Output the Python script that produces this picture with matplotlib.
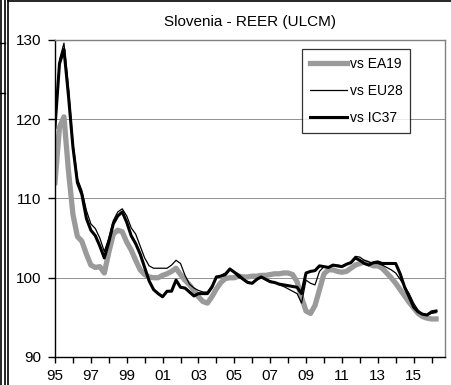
import numpy as np
import matplotlib
matplotlib.use("Agg")
import matplotlib.pyplot as plt
from matplotlib.lines import Line2D

plt.rcParams['font.family'] = ['Liberation Sans', 'DejaVu Sans']

# quarterly REER (ULC, manufacturing), 1995Q1 - 2016Q2
start_year = 1995
vs_ea19 = [112.0, 119.0, 120.3, 113.5,
           108.0, 105.2, 104.6, 103.0,
           101.6, 101.3, 101.4, 100.6,
           103.2, 105.5, 106.0, 105.8,
           104.5, 103.5, 102.2, 101.0,
           100.4, 100.1, 100.0, 100.0,
           100.3, 100.5, 100.8, 101.2,
           100.4, 99.7, 99.1, 98.4,
           97.6, 97.0, 96.8, 97.6,
           98.6, 99.4, 99.9, 100.0,
           100.0, 100.2, 100.1, 100.1,
           100.2, 100.2, 100.3, 100.3,
           100.4, 100.5, 100.5, 100.6,
           100.6, 100.4, 99.5, 97.5,
           95.8, 95.5, 96.5, 98.5,
           100.5, 101.0, 101.0, 100.8,
           100.7, 100.8, 101.2, 101.6,
           101.8, 102.0, 101.8, 101.5,
           101.5, 101.2, 100.6, 100.0,
           99.3, 98.5, 97.7, 96.9,
           96.2, 95.5, 95.1, 94.9,
           94.8, 94.8]
vs_eu28 = [119.0, 127.5, 129.6, 124.0,
           117.0, 112.5, 111.0, 108.5,
           106.8, 106.2, 105.0, 103.3,
           105.0, 107.2, 108.3, 108.7,
           107.8, 106.3, 105.5, 104.0,
           102.5, 101.5, 101.2, 101.2,
           101.2, 101.2, 101.6, 102.2,
           101.8, 100.3, 99.2, 98.7,
           98.4, 98.2, 98.2, 99.0,
           100.1, 100.3, 100.6, 101.2,
           100.6, 100.0, 99.8, 99.5,
           99.3, 99.7, 100.1, 99.8,
           99.6, 99.4, 99.1, 98.9,
           98.6, 98.3, 98.0, 96.8,
           99.7, 99.3, 99.1, 100.8,
           101.4, 101.3, 101.5, 101.6,
           101.5, 101.7, 102.0, 102.7,
           102.6, 102.2, 102.0, 101.8,
           101.8, 101.6, 101.3, 101.0,
           100.6, 99.8, 98.9, 98.0,
           96.8, 95.9, 95.4, 95.3,
           95.5, 95.6]
vs_ic37 = [119.0, 127.0, 128.8, 123.0,
           116.5, 112.0, 110.5, 107.5,
           106.0, 105.3, 104.0, 102.5,
           104.5, 106.8, 107.8, 108.3,
           107.0, 105.3, 104.3, 103.0,
           101.3, 99.6, 98.5, 98.0,
           97.6, 98.3, 98.3, 99.7,
           98.8, 98.7, 98.2, 97.7,
           98.0, 98.0, 98.0, 98.8,
           100.1, 100.2, 100.4, 101.1,
           100.7, 100.3, 99.8, 99.4,
           99.3, 99.8, 100.1, 99.8,
           99.5, 99.4, 99.2, 99.1,
           99.0, 98.9, 98.8, 98.0,
           100.6, 100.8, 100.9, 101.5,
           101.4, 101.3, 101.6, 101.5,
           101.4, 101.7, 101.9, 102.5,
           102.2, 101.8, 101.6, 101.9,
           102.0, 101.8, 101.8, 101.8,
           101.8, 100.5, 98.8, 97.6,
           96.3, 95.7, 95.4, 95.3,
           95.7, 95.8]
tick_years = list(range(1995, 2017))
tick_labels = ['%02d' % (y % 100) if y % 2 == 1 else '' for y in tick_years]

t = start_year + np.arange(len(vs_ea19)) / 4.0

fig = plt.figure(figsize=(4.51, 3.85), dpi=100)
W, H = 451.0, 385.0
ax = fig.add_axes([55 / W, 28 / H, 390 / W, 317 / H])

for yv in (100, 110, 120):
    ax.axhline(yv, color='#909090', lw=0.7, zorder=1)

ax.plot(t, vs_ea19, color='#9a9a9a', lw=3.8, label='vs EA19', zorder=2,
        solid_joinstyle='round')
ax.plot(t, vs_eu28, color='black', lw=0.9, label='vs EU28', zorder=3)
ax.plot(t, vs_ic37, color='black', lw=2.2, label='vs IC37', zorder=4)

ax.set_xlim(1995, 1995 + 87 / 4.0)
ax.set_ylim(90, 130)
ax.set_yticks([90, 100, 110, 120, 130])
ax.set_xticks(tick_years)
ax.set_xticklabels(tick_labels)
ax.tick_params(axis='y', direction='out', length=5, width=1, pad=5,
               labelsize=11)
ax.tick_params(axis='x', direction='out', length=4, width=1, pad=5,
               labelsize=11)

for side in ('left', 'bottom'):
    ax.spines[side].set_color('black')
    ax.spines[side].set_linewidth(1.0)
for side in ('top', 'right'):
    ax.spines[side].set_color('#808080')
    ax.spines[side].set_linewidth(1.0)

ax.set_title('Slovenia - REER (ULCM)', fontsize=11, pad=10)

leg = ax.legend(loc='upper left', bbox_to_anchor=((302 - 55) / 390, 1 - (49 - 40) / 317),
                frameon=True, fancybox=False, fontsize=10,
                handlelength=2.7, handletextpad=0.2, borderpad=0.55,
                labelspacing=0.95, borderaxespad=0)
leg.get_frame().set_edgecolor('black')
leg.get_frame().set_linewidth(0.9)

# outer worksheet frame lines
def fline(x0, y0, x1, y1, lw=1.0):
    fig.add_artist(Line2D([x0 / W, x1 / W], [1 - y0 / H, 1 - y1 / H],
                          transform=fig.transFigure, color='black', lw=lw))

fline(1, 0, 1, H, 1.2)
fline(4.8, 0, 4.8, H, 1.2)
fline(8, 0, 8, H, 1.2)
fline(8, 0.8, W, 0.8, 1.2)
fline(0, 43, 4.8, 43, 1.0)
fline(0, 93, 4.8, 93, 1.0)

fig.savefig('out.png', dpi=100)
